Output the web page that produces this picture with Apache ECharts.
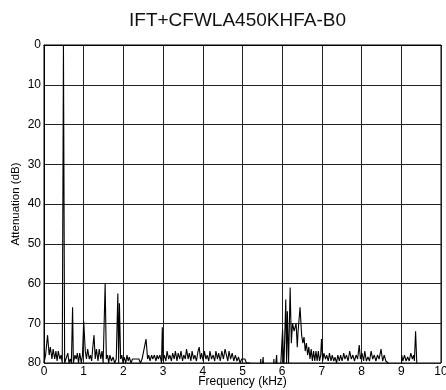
<!DOCTYPE html>
<html>
<head>
<meta charset="utf-8">
<script src="https://cdn.jsdelivr.net/npm/echarts@6/dist/echarts.min.js"></script>
<style>html,body{margin:0;padding:0;background:#fff;}#c{width:446px;height:390px;}</style>
</head>
<body>
<div id="c"></div>
<script>
// Frequency (kHz) vertices and attenuation (dB) values.
// Values above 80 dB fall below the plotted range and are clipped away.
const freq = [
0.00,0.04,0.09,0.13,0.16,0.20,0.23,0.27,0.30,0.33,0.36,0.40,0.43,0.46,0.49,0.52,0.56,0.60,0.63,0.66,
0.69,0.72,0.74,0.78,0.81,0.84,0.87,0.90,0.94,0.97,1.00,1.04,1.07,1.10,1.14,1.17,1.20,1.23,1.26,1.29,
1.32,1.36,1.39,1.43,1.46,1.49,1.54,1.57,1.60,1.63,1.66,1.70,1.74,1.78,1.82,1.86,1.88,1.90,1.93,1.96,
1.99,2.02,2.06,2.09,2.12,2.15,2.19,2.23,2.27,2.31,2.35,2.39,2.43,2.47,2.51,2.57,2.61,2.64,2.67,2.71,
2.74,2.78,2.82,2.85,2.88,2.92,2.96,2.98,3.00,3.03,3.07,3.10,3.14,3.17,3.21,3.24,3.28,3.31,3.35,3.38,
3.42,3.45,3.49,3.52,3.56,3.59,3.63,3.66,3.70,3.73,3.77,3.80,3.84,3.88,3.91,3.94,3.97,4.01,4.04,4.08,
4.11,4.15,4.18,4.22,4.26,4.30,4.33,4.37,4.40,4.44,4.48,4.52,4.56,4.60,4.63,4.66,4.70,4.74,4.78,4.82,
4.86,4.90,4.94,4.98,5.02,5.06,5.10,5.14,5.18,5.22,5.44,5.46,5.48,5.50,5.52,5.54,5.77,5.79,5.81,5.84,
5.86,5.88,5.95,6.01,6.04,6.09,6.11,6.13,6.16,6.20,6.23,6.26,6.30,6.35,6.38,6.40,6.45,6.49,6.52,6.55,
6.58,6.61,6.64,6.67,6.70,6.73,6.76,6.79,6.82,6.85,6.88,6.91,6.94,6.97,6.99,7.02,7.05,7.09,7.12,7.16,
7.19,7.23,7.26,7.30,7.33,7.37,7.40,7.44,7.47,7.51,7.55,7.58,7.62,7.66,7.70,7.74,7.78,7.82,7.86,7.90,
7.94,7.97,8.01,8.05,8.08,8.12,8.16,8.20,8.24,8.28,8.32,8.36,8.40,8.44,8.49,8.53,8.57,8.61,8.64,8.67,
8.69,9.00,9.01,9.04,9.08,9.12,9.16,9.20,9.24,9.28,9.31,9.33,9.36,9.39,9.41
];
const atten = [
80,78,73,78,76,79,76.5,79,77,79.5,77,79,78,80,0,80,80,77.5,80,79,
80,66,80,78,79,77.5,80,77.5,80,78,69.5,77,79,76.5,79,78,79.5,76,73,79,
76.5,79.5,76.5,79,77,80,60,79,78,80,78,79.5,78.5,80,79,62.5,80,65,79,78,
80,78.5,80,78,79.5,78.5,80,79,79.5,79,79.5,79,80,79,79.5,74,79,78,79.5,78,
79,78,79.5,78,79,78,80,71,79.5,78,79.5,77,79,78,79.5,77.5,79,77,79.5,77.5,
79,77,79.5,78,79,76.5,79,77.5,79.5,77,79,78,79.5,77,76,79,77.5,79.5,77,79,
78,79.5,77,79,78,79.5,77,79,77.5,79.5,77,79,76.5,76,79.5,77,79,77.5,79.5,78,
79.5,78.5,80,79,79.5,79,80,79.5,80,83,83,79,83,83,78.5,83,83,79,83,83,
78,83,83,71.5,82,64,80,67,80,61,75,70,72,70,76,72,66,73,75,73.5,
77,75,78,76,79,76.5,79.5,77,79.5,77,79.5,77,79.5,78,74,79.5,77.5,79,78,79.5,
77.5,79.5,78,79.5,78.5,80,78,79.5,78,79.5,77.5,79,78,79.5,77,79,78,79.5,78,79,
75.5,79,77.5,79.5,77,79.5,78.5,79.5,77,79,78,79.5,78,79,76.5,79.5,78,79.5,79,80,
83,83,78,79.5,78,79.5,78.5,79.5,77.5,79,78,79.5,72,80,83
];
const xTicks = [0,1,2,3,4,5,6,7,8,9,10];
const yTicks = [0,10,20,30,40,50,60,70,80];

const points = freq.map((f, i) => [f, atten[i]]);
const FONT = "'Liberation Sans', Arial, sans-serif";

const chart = echarts.init(document.getElementById('c'), null, {renderer: 'canvas'});
chart.setOption({
  animation: false,
  backgroundColor: '#fff',
  title: {
    text: 'IFT+CFWLA450KHFA-B0',
    left: 124,
    top: 6,
    textStyle: {fontFamily: FONT, fontSize: 19, fontWeight: 'normal', color: '#111'}
  },
  grid: {
    left: 44, top: 45, width: 397, height: 318,
    outerBoundsMode: 'none',
    show: true, borderColor: '#000', borderWidth: 1, containLabel: false
  },
  xAxis: {
    type: 'value',
    min: xTicks[0], max: xTicks[xTicks.length - 1], interval: 1,
    name: 'Frequency (kHz)',
    nameLocation: 'middle',
    nameGap: 13,
    nameMoveOverlap: false,
    nameTextStyle: {fontFamily: FONT, fontSize: 12, color: '#000'},
    axisLine: {show: true, lineStyle: {color: '#000', width: 1}},
    axisTick: {show: false},
    axisLabel: {fontFamily: FONT, fontSize: 12, color: '#000', margin: 3},
    splitLine: {show: true, lineStyle: {color: '#222', width: 1}}
  },
  yAxis: {
    type: 'value',
    inverse: true,
    min: yTicks[0], max: yTicks[yTicks.length - 1], interval: 10,
    name: 'Attenuation (dB)',
    nameLocation: 'middle',
    nameGap: 22,
    nameRotate: 90,
    nameMoveOverlap: false,
    nameTextStyle: {fontFamily: FONT, fontSize: 11.5, color: '#000'},
    axisLine: {show: true, lineStyle: {color: '#000', width: 1}},
    axisTick: {show: false},
    axisLabel: {fontFamily: FONT, fontSize: 12, color: '#000', margin: 3},
    splitLine: {show: true, lineStyle: {color: '#222', width: 1}}
  },
  series: [{
    type: 'line',
    data: points,
    showSymbol: false,
    symbol: 'none',
    clip: true,
    lineStyle: {color: '#000', width: 1.1},
    connectNulls: false
  }]
});
</script>
</body>
</html>
